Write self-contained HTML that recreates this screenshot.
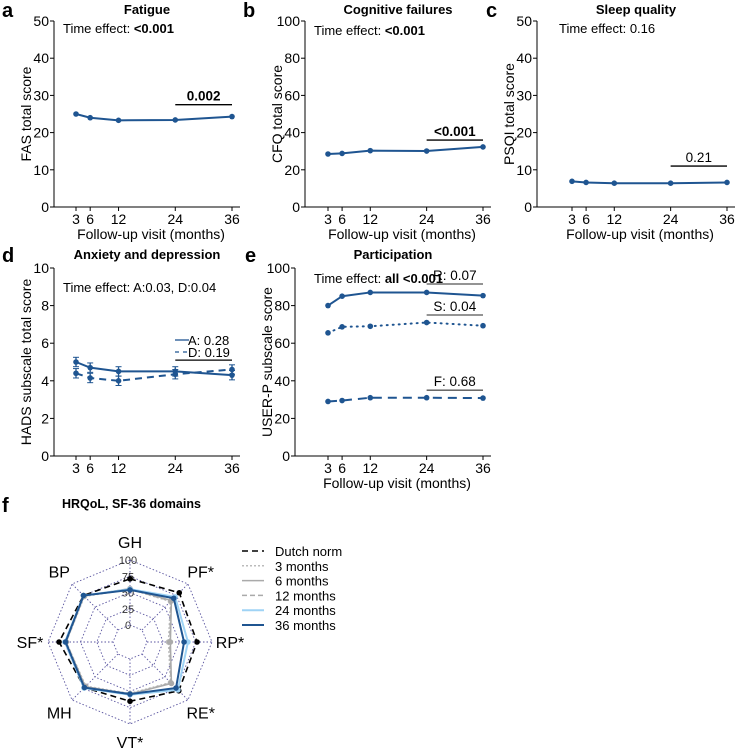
<!DOCTYPE html>
<html><head><meta charset="utf-8"><style>
body{margin:0;background:#fff}
svg{display:block;font-family:"Liberation Sans",Arial,sans-serif}
</style></head><body>
<svg id="fig" width="740" height="748" viewBox="0 0 740 748" xmlns="http://www.w3.org/2000/svg"></svg>
<script>
const months=[3,6,12,24,36];
const fatigue=[25.0,24.0,23.3,23.4,24.3];
const cognitive=[28.5,28.8,30.3,30.1,32.3];
const sleep=[6.9,6.6,6.4,6.4,6.6];
const anxiety=[5.0,4.7,4.5,4.5,4.3];
const depression=[4.4,4.15,4.0,4.35,4.6];
const hadsErr=[0.25,0.25,0.25,0.25,0.25];
const partR=[80,85,87,87,85.3];
const partS=[65.5,68.7,69,71,69.3];
const partF=[29,29.5,31,31,30.8];
const ticksFAS=[0,10,20,30,40,50];
const ticksCFQ=[0,20,40,60,80,100];
const ticksHADS=[0,2,4,6,8,10];
const radarAxes=["GH","PF*","RP*","RE*","VT*","MH","SF*","BP"];
const radarLevels=[0,25,50,75,100];
const dutchNorm=[71,81,77,80,65,73,83,75];
const m3=[55,62,33,62,53,70,72,73];
const m6=[56,64,36,64,54,71,73,74];
const m12=[55,63,35,63,54,71,72,74];
const m24=[55,72,63,78,55,74,74,75];
const m36=[54,69,57,74,54,73,73,75];

const svg=document.getElementById('fig');
const NS='http://www.w3.org/2000/svg';
const BLUE='#1f5591';
function el(tag,attrs,parent){const e=document.createElementNS(NS,tag);for(const k in attrs)e.setAttribute(k,attrs[k]);(parent||svg).appendChild(e);return e;}
function txt(s,attrs,parent){const e=el('text',attrs,parent);e.textContent=s;return e;}

function panel(o){
  const g=el('g',{});
  
  
  const x0=o.ax, yb=o.yb, yt=o.yt;
  const X=m=>o.x3+(m-3)*(o.x36-o.x3)/33;
  const Y=v=>yb-(v/o.ymax)*(yb-yt);
  const L=txt(o.letter,{x:o.lx,y:o.ty+3,'font-size':20,'font-weight':'bold'},g);
  
  const T=txt(o.title,{x:(x0+o.x36)/2+4,y:o.ty,'font-size':13,'font-weight':'bold','text-anchor':'middle'},g);
  
  const ya=el('line',{x1:x0,y1:yt,x2:x0,y2:yb,stroke:'#000','stroke-width':1},g);
  
  const xa=el('line',{x1:x0,y1:yb,x2:o.x36+8,y2:yb,stroke:'#000','stroke-width':1},g);
  
  o.ticks.forEach(t=>{
    el('line',{x1:x0-4,y1:Y(t),x2:x0,y2:Y(t),stroke:'#000'},g);
    const tl=txt(String(t),{x:x0-5,y:Y(t)+5,'font-size':14,'text-anchor':'end'},g);
    
  });
  months.forEach(m=>{
    el('line',{x1:X(m),y1:yb,x2:X(m),y2:yb+4,stroke:'#000'},g);
    const tl=txt(String(m),{x:X(m),y:yb+17,'font-size':14,'text-anchor':'middle'},g);
    
  });
  if(o.xtitle){const xt=txt('Follow-up visit (months)',{x:(x0+o.x36+8)/2+4,y:yb+32,'font-size':14,'text-anchor':'middle'},g);
    }
  const ytt=txt(o.ytitle,{x:0,y:0,'font-size':14,'text-anchor':'middle',transform:`translate(${x0-23},${(yt+yb)/2}) rotate(-90)`},g);
  
  o.series.forEach(s=>{
    const pts=months.map((m,i)=>X(m)+','+Y(s.v[i])).join(' ');
    const pl=el('polyline',{points:pts,fill:'none',stroke:BLUE,'stroke-width':2,'stroke-dasharray':s.dash||'none','stroke-linecap':s.dash==='1 5'?'round':'butt'},g);
    
    s.v.forEach((v,i)=>{
      if(s.err){el('line',{x1:X(months[i]),y1:Y(v-s.err[i]),x2:X(months[i]),y2:Y(v+s.err[i]),stroke:BLUE,'stroke-width':1.3},g);
        el('line',{x1:X(months[i])-3,y1:Y(v-s.err[i]),x2:X(months[i])+3,y2:Y(v-s.err[i]),stroke:BLUE},g);
        el('line',{x1:X(months[i])-3,y1:Y(v+s.err[i]),x2:X(months[i])+3,y2:Y(v+s.err[i]),stroke:BLUE},g);}
      const c=el('circle',{cx:X(months[i]),cy:Y(v),r:2.8,fill:BLUE},g);
      
    });
  });
  (o.brackets||[]).forEach(b=>{
    const bl=el('line',{x1:X(24),y1:Y(b.y),x2:X(36),y2:Y(b.y),stroke:b.col||'#000','stroke-width':1.3},g);
    
    if(b.label){const bt=txt(b.label,{x:(X(24)+X(36))/2,y:Y(b.y)-4,'font-size':13.5,'text-anchor':'middle','font-weight':b.bold?'bold':'normal'},g);
      }
  });
  const te=el('text',{x:o.tex,y:o.tey,'font-size':13},g);
  
  const t1=el('tspan',{},te);t1.textContent='Time effect: ';
  const t2=el('tspan',{'font-weight':o.teBold?'bold':'normal'},te);t2.textContent=o.te;
  return {g,X,Y};
}

panel({name:'panel-fatigue',letter:'a',lx:2,title:'Fatigue',ty:14,ax:54,yb:207,yt:21,ymax:50,x3:76,x36:232,ticks:ticksFAS,ytitle:'FAS total score',xtitle:true,
 series:[{name:'fatigue',v:fatigue}],brackets:[{y:27.5,label:'0.002',bold:true}],tex:63,tey:33,te:'<0.001',teBold:true});
panel({name:'panel-cognitive',letter:'b',lx:243,title:'Cognitive failures',ty:14,ax:305,yb:207,yt:21,ymax:100,x3:328,x36:483,ticks:ticksCFQ,ytitle:'CFQ total score',xtitle:true,
 series:[{name:'cognitive',v:cognitive}],brackets:[{y:36,label:'<0.001',bold:true}],tex:314,tey:35,te:'<0.001',teBold:true});
panel({name:'panel-sleep',letter:'c',lx:486,title:'Sleep quality',ty:14,ax:537,yb:207,yt:21,ymax:50,x3:572,x36:727,ticks:ticksFAS,ytitle:'PSQI total score',xtitle:true,
 series:[{name:'sleep',v:sleep}],brackets:[{y:11,label:'0.21'}],tex:559,tey:33,te:'0.16'});
const pd=panel({name:'panel-anxiety-depression',letter:'d',lx:2,title:'Anxiety and depression',ty:259,ax:54,yb:456,yt:268,ymax:10,x3:76,x36:232,ticks:ticksHADS,ytitle:'HADS subscale total score',xtitle:false,
 series:[{name:'anxiety',v:anxiety,err:hadsErr},{name:'depression',v:depression,err:hadsErr,dash:'7 5'}],brackets:[{y:5.1}],tex:63,tey:292,te:'A:0.03, D:0.04'});
el('line',{x1:175,y1:340,x2:189,y2:340,stroke:BLUE,'stroke-width':1.3},pd.g);
el('line',{x1:175,y1:352,x2:189,y2:352,stroke:BLUE,'stroke-width':1.3,'stroke-dasharray':'4 4'},pd.g);
txt('A: 0.28',{x:188,y:345,'font-size':13},pd.g);
txt('D: 0.19',{x:188,y:357,'font-size':13},pd.g);
const pe=panel({name:'panel-participation',letter:'e',lx:245,title:'Participation',ty:259,ax:295,yb:456,yt:268,ymax:100,x3:328,x36:483,ticks:ticksCFQ,ytitle:'USER-P subscale score',xtitle:true,
 series:[{name:'restrictions',v:partR},{name:'satisfaction',v:partS,dash:'1 5'},{name:'frequency',v:partF,dash:'9 6'}],
 brackets:[{y:91.5,label:'R: 0.07',col:'#555'},{y:75,label:'S: 0.04',col:'#555'},{y:35,label:'F: 0.68',col:'#555'}],tex:314,tey:283,te:'all <0.001',teBold:true});

const rg=el('g',{});

txt('f',{x:2,y:512,'font-size':20,'font-weight':'bold'});
const ft=txt('HRQoL, SF-36 domains',{x:62,y:508,'font-size':12.5,'font-weight':'bold'});

const CX=130,CY=642;
const R=v=>17+v*0.65;
const ang=i=>-Math.PI/2+i*Math.PI/4;
const P=(i,v)=>[CX+R(v)*Math.cos(ang(i)),CY+R(v)*Math.sin(ang(i))];
radarLevels.forEach(l=>{
  const pts=radarAxes.map((a,i)=>P(i,l).join(',')).join(' ');
  const ring=el('polygon',{points:pts,fill:'none',stroke:'#5a55a0','stroke-width':0.9,'stroke-dasharray':'1.5 2'},rg);
  
  const lt=txt(String(l),{x:CX-2,y:CY-R(l)+4,'font-size':11,'text-anchor':'middle',fill:'#333'},rg);
  
});
radarAxes.forEach((a,i)=>{
  const p0=P(i,0),p1=P(i,100);
  el('line',{x1:p0[0],y1:p0[1],x2:p1[0],y2:p1[1],stroke:'#5a55a0','stroke-width':0.9,'stroke-dasharray':'1.5 2'},rg);
  const lp=[CX+100*Math.cos(ang(i)),CY+100*Math.sin(ang(i))];
  const al=txt(a,{x:lp[0],y:lp[1]+6,'font-size':16,'text-anchor':'middle'},rg);
  
});
const radarSeries=[
 {name:'dutch-norm',v:dutchNorm,col:'#000',dash:'6 4',w:1.6},
 {name:'3-months',v:m3,col:'#bbb',dash:'2 2',w:1.5},
 {name:'6-months',v:m6,col:'#aaa',dash:'none',w:1.5},
 {name:'12-months',v:m12,col:'#aaa',dash:'5 3',w:1.5},
 {name:'24-months',v:m24,col:'#9fd3f5',dash:'none',w:2},
 {name:'36-months',v:m36,col:BLUE,dash:'none',w:2}];
radarSeries.forEach(s=>{
  const pts=s.v.map((v,i)=>P(i,v).join(',')).join(' ');
  const pg=el('polygon',{points:pts,fill:'none',stroke:s.col,'stroke-width':s.w,'stroke-dasharray':s.dash},rg);
  
  s.v.forEach((v,i)=>{const p=P(i,v);const c=el('circle',{cx:p[0],cy:p[1],r:2.8,fill:s.col},rg);
    });
});
const legendLabels=['Dutch norm','3 months','6 months','12 months','24 months','36 months'];
const lg=el('g',{});

radarSeries.forEach((s,i)=>{
  const y=551+i*14.8;
  el('line',{x1:242,y1:y,x2:264,y2:y,stroke:s.col,'stroke-width':s.w,'stroke-dasharray':s.dash},lg);
  const t=txt(legendLabels[i],{x:275,y:y+5,'font-size':13},lg);
  
});
</script>
</body></html>
